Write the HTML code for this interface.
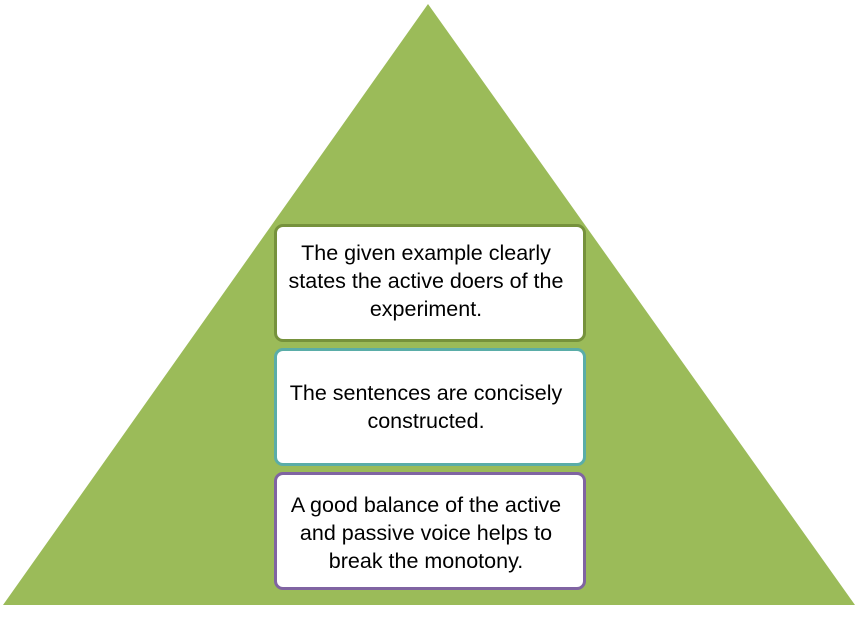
<!DOCTYPE html>
<html><head><style>
html,body{margin:0;padding:0;background:#fff;width:860px;height:620px;overflow:hidden;position:relative}
.b{position:absolute;left:274px;width:306px;height:112px;background:#fff;border:3px solid;border-radius:9px;box-sizing:content-box;font-family:"Liberation Sans",sans-serif;font-size:21.5px;line-height:28px;text-align:center;color:#000;white-space:nowrap}
.b div{position:absolute;left:-14px;right:-6px}
</style></head><body>
<svg width="860" height="620" style="position:absolute;left:0;top:0">
<polygon points="428,4 3,605 855,605" fill="#9BBB59"/>
</svg>
<div class="b" style="top:224px;border-color:#76923C"><div style="top:12px">The given example clearly<br>states the active doers of the<br>experiment.</div></div>
<div class="b" style="top:348px;border-color:#5AADA8"><div style="top:28px">The sentences are concisely<br>constructed.</div></div>
<div class="b" style="top:472px;border-color:#8064A2"><div style="top:16px">A good balance of the active<br>and passive voice helps to<br>break the monotony.</div></div>
</body></html>
